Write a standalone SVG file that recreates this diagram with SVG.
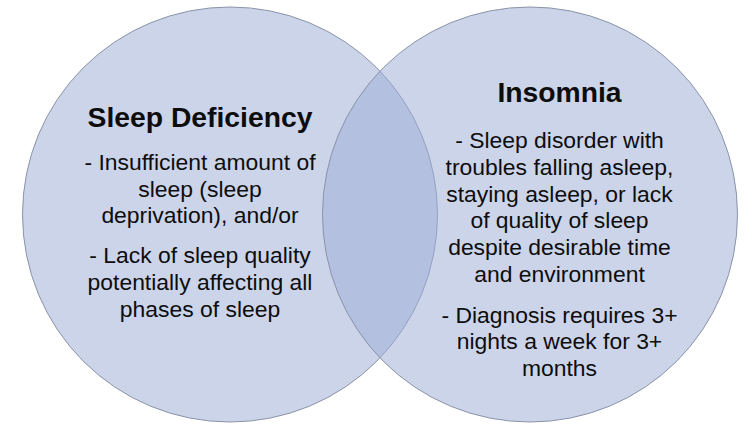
<svg xmlns="http://www.w3.org/2000/svg" width="755" height="431" viewBox="0 0 755 431">
<style>
.set{fill:#9faed7;fill-opacity:0.53;stroke:#8a93a8;stroke-width:1}
.title{font-family:"Liberation Sans",Arial,sans-serif;font-weight:bold;font-size:28.3px;fill:#0d0d0d;text-anchor:middle}
.body{font-family:"Liberation Sans",Arial,sans-serif;font-size:22.9px;fill:#0d0d0d;text-anchor:middle}
</style>
<rect width="755" height="431" fill="#ffffff"/>
<g id="sleep-deficiency">
<circle class="set" cx="230" cy="214.5" r="207.5"/>
</g>
<g id="insomnia">
<circle class="set" cx="530" cy="214.5" r="207.5"/>
</g>
<g id="labels-left">
<text class="title" x="200" y="127">Sleep Deficiency</text>
<text class="body" x="200" y="170">- Insufficient amount of</text>
<text class="body" x="200" y="196.5">sleep (sleep</text>
<text class="body" x="200" y="223.3">deprivation), and/or</text>
<text class="body" x="200" y="263">- Lack of sleep quality</text>
<text class="body" x="200" y="290">potentially affecting all</text>
<text class="body" x="200" y="316.7">phases of sleep</text>
</g>
<g id="labels-right">
<text class="title" x="559.5" y="101.7">Insomnia</text>
<text class="body" x="559.5" y="147.7">- Sleep disorder with</text>
<text class="body" x="559.5" y="175">troubles falling asleep,</text>
<text class="body" x="559.5" y="201.7">staying asleep, or lack</text>
<text class="body" x="559.5" y="228.4">of quality of sleep</text>
<text class="body" x="559.5" y="255.1">despite desirable time</text>
<text class="body" x="559.5" y="282">and environment</text>
<text class="body" x="559.5" y="322.5">- Diagnosis requires 3+</text>
<text class="body" x="559.5" y="349.3">nights a week for 3+</text>
<text class="body" x="559.5" y="376">months</text>
</g>
<g id="connectors"></g>
</svg>
